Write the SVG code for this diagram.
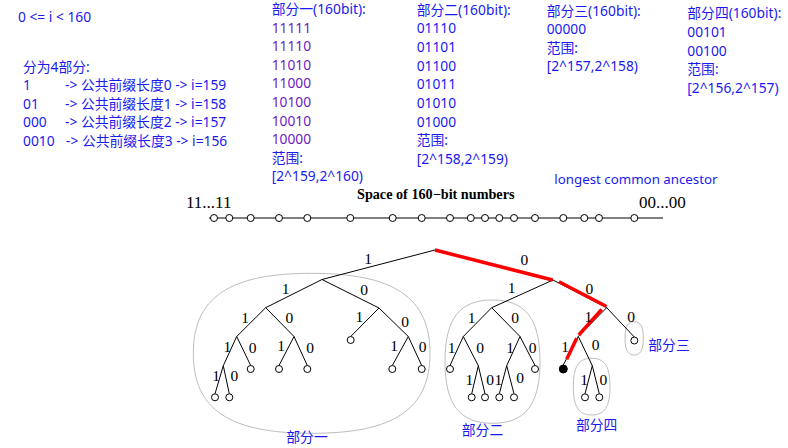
<svg xmlns="http://www.w3.org/2000/svg" width="788" height="448" viewBox="0 0 788 448">
<style>
.t{font-family:"Noto Sans","Noto Sans CJK SC",sans-serif;font-size:13.8px;fill:#1a1aee}
.p{fill:#6e1bc4}
.lb{font-family:"Liberation Serif",serif;font-size:15.5px;fill:#000;text-anchor:middle}
.e{stroke:#000;stroke-width:1;fill:none}
.r{stroke:#f00;stroke-width:3.5;fill:none}
.lf{fill:#fff;stroke:#000;stroke-width:1}
.grp{fill:none;stroke:#bdbdbd;stroke-width:1}
</style>
<rect width="788" height="448" fill="#fff"/>

<g id="info">
<text class="t" x="18" y="22">0 &lt;= i &lt; 160</text>
<text class="t" x="23" y="72">分为4部分:</text>
<text class="t" y="90"><tspan x="23">1</tspan><tspan x="65">-&gt; 公共前缀长度0 -&gt; i=159</tspan></text>
<text class="t" y="108.5"><tspan x="23">01</tspan><tspan x="65">-&gt; 公共前缀长度1 -&gt; i=158</tspan></text>
<text class="t" y="127"><tspan x="23">000</tspan><tspan x="65">-&gt; 公共前缀长度2 -&gt; i=157</tspan></text>
<text class="t" y="146"><tspan x="23">0010</tspan><tspan x="66">-&gt; 公共前缀长度3 -&gt; i=156</tspan></text>
</g>

<g id="part1-info">
<text class="t" x="271.7" y="14">部分一(160bit):</text>
<text class="t p" x="271.7" y="32.6">11111</text>
<text class="t p" x="271.7" y="51.2">11110</text>
<text class="t p" x="271.7" y="69.8">11010</text>
<text class="t p" x="271.7" y="88.4">11000</text>
<text class="t p" x="271.7" y="107">10100</text>
<text class="t p" x="271.7" y="125.6">10010</text>
<text class="t p" x="271.7" y="144.2">10000</text>
<text class="t" x="271.7" y="162.8">范围:</text>
<text class="t" x="271.7" y="181.4">[2^159,2^160)</text>
</g>

<g id="part2-info">
<text class="t" x="416.7" y="14.5">部分二(160bit):</text>
<text class="t" x="416.7" y="33.2">01110</text>
<text class="t" x="416.7" y="51.9">01101</text>
<text class="t" x="416.7" y="70.6">01100</text>
<text class="t" x="416.7" y="89.3">01011</text>
<text class="t" x="416.7" y="108">01010</text>
<text class="t" x="416.7" y="126.7">01000</text>
<text class="t" x="416.7" y="145.4">范围:</text>
<text class="t" x="416.7" y="164.1">[2^158,2^159)</text>
</g>

<g id="part3-info">
<text class="t" x="546.7" y="16">部分三(160bit):</text>
<text class="t" x="546.7" y="34.4">00000</text>
<text class="t" x="546.7" y="52.8">范围:</text>
<text class="t" x="546.7" y="71.2">[2^157,2^158)</text>
</g>

<g id="part4-info">
<text class="t" x="687.3" y="18.3">部分四(160bit):</text>
<text class="t" x="687.3" y="36.9">00101</text>
<text class="t" x="687.3" y="55.5">00100</text>
<text class="t" x="687.3" y="74.1">范围:</text>
<text class="t" x="687.3" y="92.7">[2^156,2^157)</text>
</g>

<g id="lca-label">
<text class="t" x="554.3" y="184.3" style="font-size:13.3px">longest common ancestor</text>
</g>

<g id="number-line">
<text x="357" y="199" font-family="Liberation Serif,serif" font-weight="bold" font-size="14.2px" fill="#000">Space of 160−bit numbers</text>
<text x="186" y="208" font-family="Liberation Serif,serif" font-size="17px" fill="#000">11...11</text>
<text x="639" y="208" font-family="Liberation Serif,serif" font-size="17px" fill="#000">00...00</text>
<line class="e" x1="209" y1="218" x2="663" y2="218"/>
<g class="lf">
<circle cx="214" cy="218" r="3.5"/><circle cx="229.3" cy="218" r="3.5"/><circle cx="250.7" cy="218" r="3.5"/><circle cx="279" cy="218" r="3.5"/><circle cx="307.3" cy="218" r="3.5"/><circle cx="350.3" cy="218" r="3.5"/><circle cx="392.7" cy="218" r="3.5"/><circle cx="421.7" cy="218" r="3.5"/><circle cx="450" cy="218" r="3.5"/><circle cx="470.8" cy="218" r="3.5"/><circle cx="485" cy="218" r="3.5"/><circle cx="499.3" cy="218" r="3.5"/><circle cx="514" cy="218" r="3.5"/><circle cx="535" cy="218" r="3.5"/><circle cx="563.3" cy="218" r="3.5"/><circle cx="584.3" cy="218" r="3.5"/><circle cx="599" cy="218" r="3.5"/><circle cx="634.3" cy="218" r="3.5"/>
</g>
</g>

<g id="partition-1">
<path class="grp" d="M193.3,353.3 C193.3,297 230,273.3 311.7,273.3 C393,273.3 430,297 430,353.3 C430,410 393,433.3 311.7,433.3 C230,433.3 193.3,410 193.3,353.3 Z"/>
<text class="t" x="307" y="441.5" text-anchor="middle">部分一</text>
</g>
<g id="partition-2">
<path class="grp" d="M445,361.7 C445,318 460,300 492.5,300 C525,300 540,318 540,361.7 C540,405 525,423.3 492.5,423.3 C460,423.3 445,405 445,361.7 Z"/>
<text class="t" x="482.5" y="435" text-anchor="middle">部分二</text>
</g>
<g id="partition-3">
<path class="grp" d="M625,338.3 C625,326 628,321.7 634.2,321.7 C640.3,321.7 643.3,326 643.3,338.3 C643.3,350.5 640.3,355 634.2,355 C628,355 625,350.5 625,338.3 Z"/>
<text class="t" x="648.3" y="350">部分三</text>
</g>
<g id="partition-4">
<path class="grp" d="M573.3,386.7 C573.3,366 579,358.3 591.7,358.3 C604.3,358.3 610,366 610,386.7 C610,407 604.3,415 591.7,415 C579,415 573.3,407 573.3,386.7 Z"/>
<text class="t" x="596.7" y="430" text-anchor="middle">部分四</text>
</g>

<g id="connectors">
<path class="e" d="M435,250 L322,279.5 M435,250 L553,280
M322,279.5 L265.7,307.7 M322,279.5 L379,308
M265.7,307.7 L236.7,336.5 M265.7,307.7 L294,336.5
M236.7,336.5 L223.3,365.7 M236.7,336.5 L250.7,365.5
M223.3,365.7 L215,393.8 M223.3,365.7 L229.3,393.8
M294,336.5 L279,365.5 M294,336.5 L307.3,365.5
M379,308 L350.7,336.5 M379,308 L408.3,336.5
M408.3,336.5 L392.3,365.5 M408.3,336.5 L421.7,365.5
M553,280 L491.7,307.7 M553,280 L606.7,307.7
M491.7,307.7 L463.3,336.5 M491.7,307.7 L520,336.5
M463.3,336.5 L450,365.5 M463.3,336.5 L478.3,365.7
M478.3,365.7 L471.7,393.8 M478.3,365.7 L485,393.8
M520,336.5 L506.7,365.7 M520,336.5 L535,365.5
M506.7,365.7 L499.3,393.8 M506.7,365.7 L514,393.8
M606.7,307.7 L578.3,336.5 M606.7,307.7 L634.3,337
M578.3,336.5 L563.3,365 M578.3,336.5 L592.3,365.7
M592.3,365.7 L585,393.8 M592.3,365.7 L599.3,393.8"/>
<path class="r" d="M435,250 L552.7,280 M559,281.7 L606.5,306.5 M601.7,309.3 L578.8,335 M576.7,338.3 L566.7,359.3"/>
</g>

<g id="edge-labels">
<text class="lb" x="368" y="264">1</text><text class="lb" x="524.3" y="265">0</text>
<text class="lb" x="285.7" y="294">1</text><text class="lb" x="364" y="295">0</text>
<text class="lb" x="245" y="323.3">1</text><text class="lb" x="289.3" y="323">0</text>
<text class="lb" x="359.3" y="321.7">1</text><text class="lb" x="405" y="326.7">0</text>
<text class="lb" x="227.3" y="351.7">1</text><text class="lb" x="252.7" y="352.7">0</text>
<text class="lb" x="281" y="351">1</text><text class="lb" x="310" y="352.7">0</text>
<text class="lb" x="394" y="351">1</text><text class="lb" x="422.7" y="352">0</text>
<text class="lb" x="216" y="381">1</text><text class="lb" x="234.3" y="381">0</text>
<text class="lb" x="511.7" y="292.7">1</text><text class="lb" x="589.3" y="294">0</text>
<text class="lb" x="471.7" y="323.3">1</text><text class="lb" x="515" y="323.3">0</text>
<text class="lb" x="588.3" y="321.7">1</text><text class="lb" x="631" y="321.7">0</text>
<text class="lb" x="451.7" y="352.7">1</text><text class="lb" x="480" y="352.7">0</text>
<text class="lb" x="510" y="352.7">1</text><text class="lb" x="532.7" y="352.7">0</text>
<text class="lb" x="565" y="351.7">1</text><text class="lb" x="595.7" y="350">0</text>
<text class="lb" x="469.3" y="385">1</text><text class="lb" x="490" y="385">0</text>
<text class="lb" x="498.3" y="385">1</text><text class="lb" x="520" y="383.3">0</text>
<text class="lb" x="584" y="385">1</text><text class="lb" x="603.3" y="385">0</text>
</g>

<g id="leaves" class="lf">
<g id="leaf-11111"><circle cx="215" cy="397.3" r="3.5"/></g>
<g id="leaf-11110"><circle cx="229.3" cy="397.3" r="3.5"/></g>
<g id="leaf-1110"><circle cx="250.7" cy="369" r="3.5"/></g>
<g id="leaf-1101"><circle cx="279" cy="369" r="3.5"/></g>
<g id="leaf-1100"><circle cx="307.3" cy="369" r="3.5"/></g>
<g id="leaf-101"><circle cx="350.7" cy="340" r="3.5"/></g>
<g id="leaf-1001"><circle cx="392.3" cy="369" r="3.5"/></g>
<g id="leaf-1000"><circle cx="421.7" cy="369" r="3.5"/></g>
<g id="leaf-0111"><circle cx="450" cy="369" r="3.5"/></g>
<g id="leaf-01101"><circle cx="471.7" cy="397.3" r="3.5"/></g>
<g id="leaf-01100"><circle cx="485" cy="397.3" r="3.5"/></g>
<g id="leaf-01011"><circle cx="499.3" cy="397.3" r="3.5"/></g>
<g id="leaf-01010"><circle cx="514" cy="397.3" r="3.5"/></g>
<g id="leaf-0100"><circle cx="535" cy="369" r="3.5"/></g>
<g id="leaf-0011"><circle cx="563.3" cy="369" r="4" fill="#000"/></g>
<g id="leaf-00101"><circle cx="585" cy="397.3" r="3.5"/></g>
<g id="leaf-00100"><circle cx="599.3" cy="397.3" r="3.5"/></g>
<g id="leaf-000"><circle cx="634.3" cy="340.5" r="3.5"/></g>
</g>
</svg>
